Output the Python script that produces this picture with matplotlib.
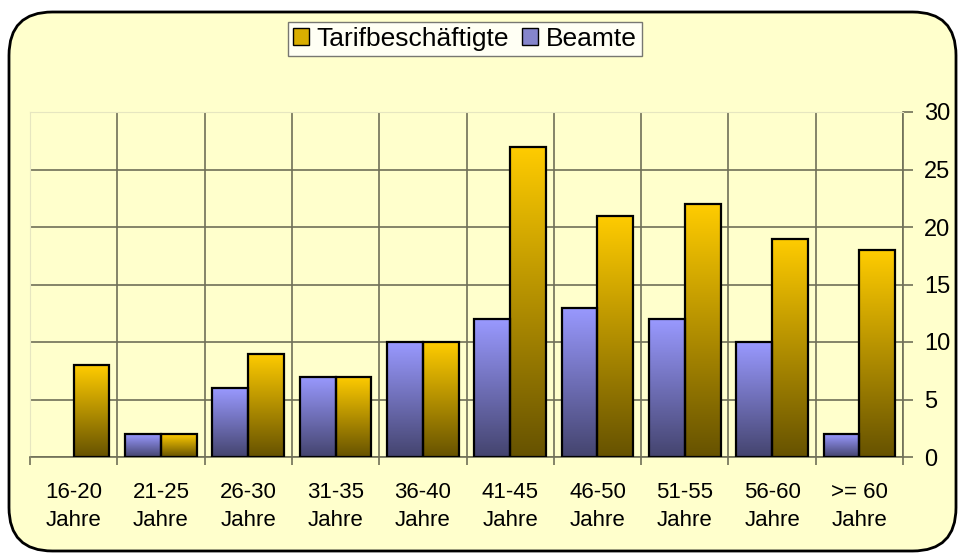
import matplotlib.pyplot as plt
import numpy as np
from matplotlib.patches import FancyBboxPatch, Patch
from matplotlib.colors import LinearSegmentedColormap

plt.rcParams['font.family'] = ['Liberation Sans', 'DejaVu Sans']

kategorien = ["16-20\nJahre", "21-25\nJahre", "26-30\nJahre", "31-35\nJahre", "36-40\nJahre",
              "41-45\nJahre", "46-50\nJahre", "51-55\nJahre", "56-60\nJahre", ">= 60\nJahre"]
beamte = [0, 2, 6, 7, 10, 12, 13, 12, 10, 2]
tarif = [8, 2, 9, 7, 10, 27, 21, 22, 19, 18]

cm_tarif = LinearSegmentedColormap.from_list("tarif", ["#665200", "#FFCC00"])
cm_beamte = LinearSegmentedColormap.from_list("beamte", ["#44446E", "#9999FF"])

fig = plt.figure(figsize=(9.65, 5.59), dpi=100)
fig.patch.set_facecolor("white")
rahmen = FancyBboxPatch((9/965, 8/559), 947/965, 539/559,
                        boxstyle="round,pad=0,rounding_size=0.045",
                        transform=fig.transFigure, facecolor="#FFFFCC",
                        edgecolor="black", linewidth=2, mutation_aspect=965/559,
                        zorder=-5)
fig.patches.append(rahmen)

ax = fig.add_axes([30/965, 102/559, 873/965, 345/559])
ax.set_facecolor("none")

x = np.arange(len(kategorien))
w = 0.41
grad = np.linspace(0, 1, 256).reshape(-1, 1)

def balken(xs, werte, cmap):
    for xi, h in zip(xs, werte):
        if h <= 0:
            continue
        ax.imshow(grad, extent=[xi, xi + w, 0, h], origin="lower", aspect="auto",
                  cmap=cmap, zorder=3, interpolation="bicubic")
        ax.bar(xi, h, width=w, align="edge", facecolor="none", edgecolor="black",
               linewidth=1.6, zorder=4)

balken(x - w, beamte, cm_beamte)
balken(x, tarif, cm_tarif)

ax.set_xlim(-0.5, 9.5)
ax.set_ylim(0, 30)

# Gitter
ax.set_yticks(np.arange(0, 31, 5))
ax.yaxis.tick_right()
ax.yaxis.grid(True, color="#707058", linewidth=1.2, zorder=1)
ax.set_xticks(x)
ax.set_xticklabels(kategorien, fontsize=16, linespacing=1.45)
ax.set_xticks(np.arange(-0.5, 10, 1), minor=True)
ax.xaxis.grid(True, which="minor", color="#707058", linewidth=1.2, zorder=1)
ax.tick_params(axis="x", which="major", length=0, pad=18)
ax.tick_params(axis="x", which="minor", length=6, color="#707058", width=1.2)
ax.tick_params(axis="y", labelsize=17, length=7, color="#707058", width=1.2, pad=8)
ax.set_axisbelow(True)

for s in ["top", "left"]:
    ax.spines[s].set_color("#E6E6C0")
for s in ["bottom", "right"]:
    ax.spines[s].set_color("#707058")
    ax.spines[s].set_linewidth(1.2)

handles = [Patch(facecolor="#D9AE00", edgecolor="black", label="Tarifbeschäftigte"),
           Patch(facecolor="#8585CC", edgecolor="black", label="Beamte")]
fig.legend(handles=handles, loc="center", bbox_to_anchor=(465/965, 1 - 39/559), ncol=2,
           fontsize=19, frameon=True, fancybox=False, edgecolor="#555555",
           handlelength=0.6, handleheight=0.6, handletextpad=0.3, columnspacing=0.5,
           borderpad=0.2, borderaxespad=0)

fig.savefig("out.png", dpi=100)
